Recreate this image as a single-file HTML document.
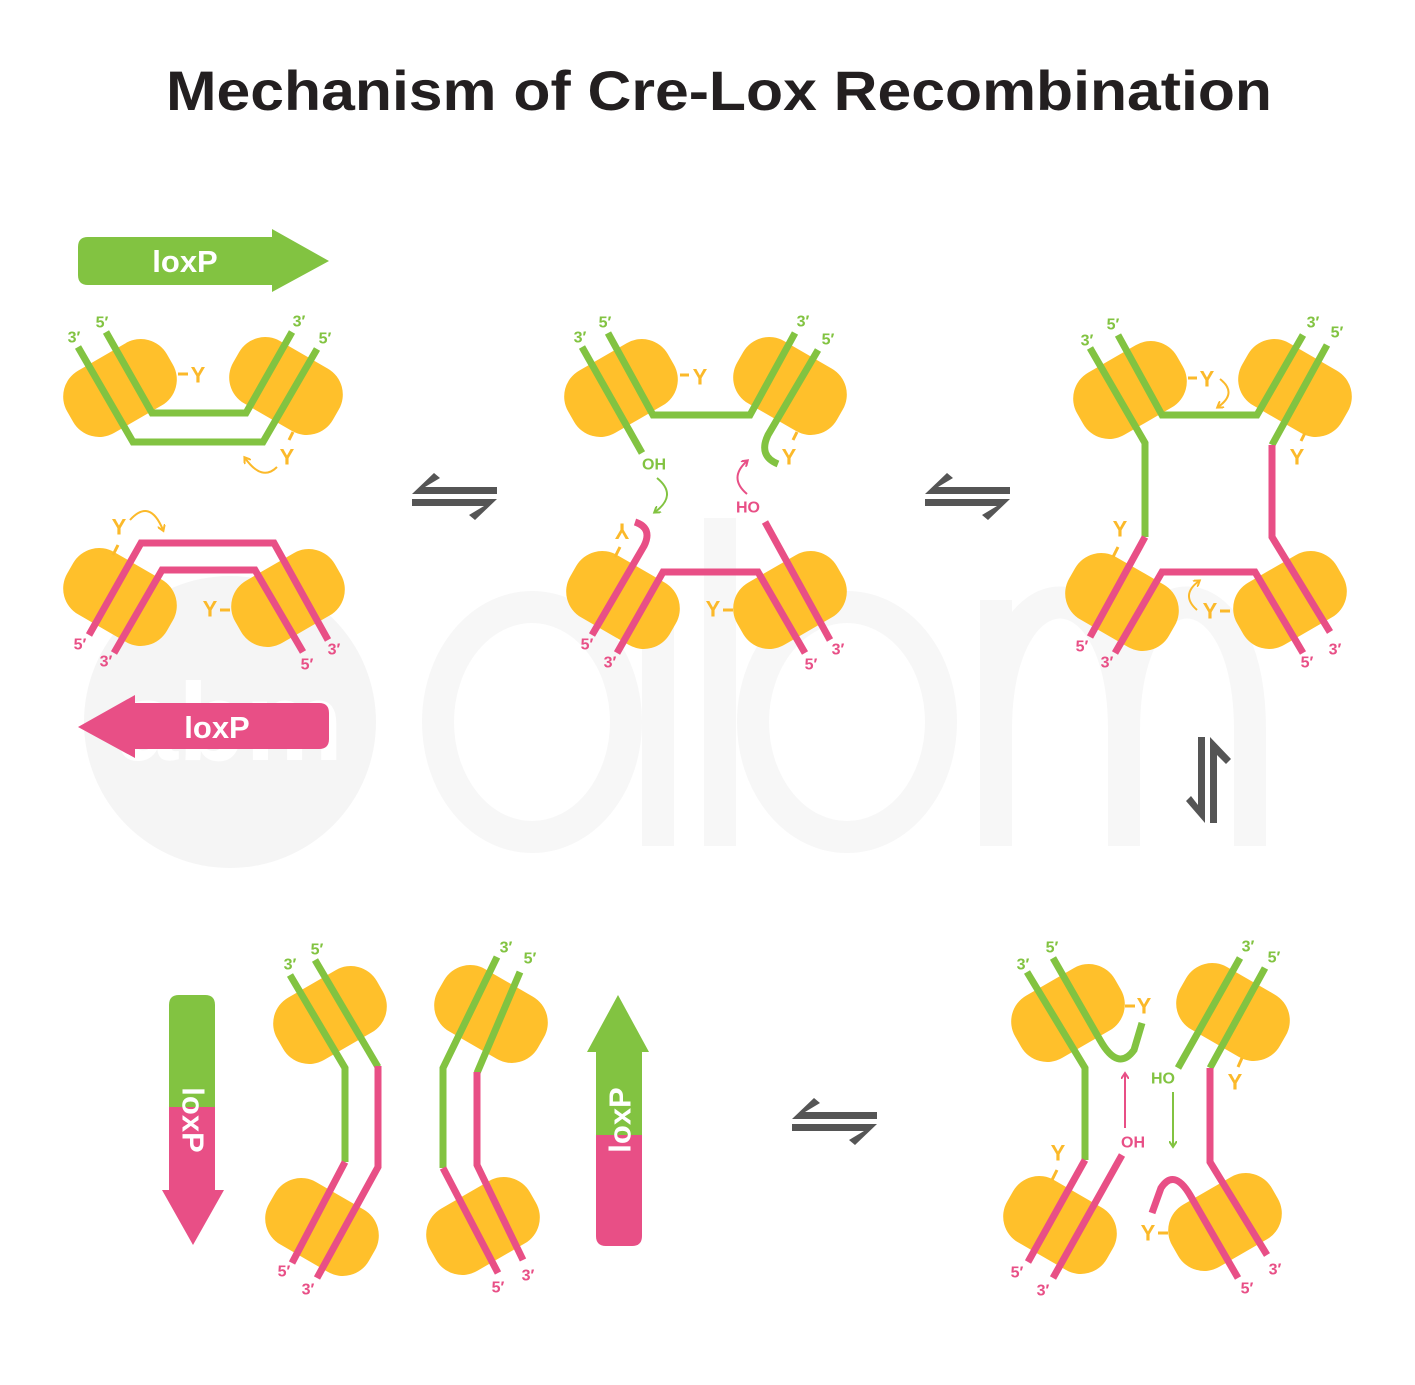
<!DOCTYPE html>
<html><head><meta charset="utf-8"><style>
html,body{margin:0;padding:0;background:#fff}
svg{display:block}
.g{stroke:#82c341;stroke-width:7;fill:none;stroke-linejoin:miter}
.p{stroke:#e84f86;stroke-width:7;fill:none;stroke-linejoin:miter}
.b{fill:#ffc02b}
.tk{stroke:#fbb92a;stroke-width:3;fill:none}
.la{font-family:"Liberation Sans",sans-serif;font-weight:bold;font-size:16px;text-anchor:middle;dominant-baseline:central}
.lg{fill:#82c341}.lp{fill:#e84f86}
.y{font-family:"Liberation Sans",sans-serif;font-weight:bold;font-size:22px;fill:#fbb92a;text-anchor:middle;dominant-baseline:central}
.ar{stroke:#fbb92a;stroke-width:2;fill:none}
</style></head><body>
<svg width="1415" height="1385" viewBox="0 0 1415 1385" xmlns="http://www.w3.org/2000/svg">
<defs>
<marker id="ho" markerWidth="8" markerHeight="8" refX="5" refY="4" orient="auto" markerUnits="userSpaceOnUse"><path d="M0,0 L6,4 L0,8" fill="none" stroke="#fbb92a" stroke-width="2"/></marker>
<marker id="hg" markerWidth="8" markerHeight="8" refX="5" refY="4" orient="auto" markerUnits="userSpaceOnUse"><path d="M0,0 L6,4 L0,8" fill="none" stroke="#82c341" stroke-width="2"/></marker>
<marker id="hp" markerWidth="8" markerHeight="8" refX="5" refY="4" orient="auto" markerUnits="userSpaceOnUse"><path d="M0,0 L6,4 L0,8" fill="none" stroke="#e84f86" stroke-width="2"/></marker>
</defs>
<!-- watermark -->
<g fill="none" stroke="#f7f7f7" stroke-width="32">
<ellipse cx="532" cy="722" rx="94" ry="115"/>
<line x1="658" y1="600" x2="658" y2="846"/>
<line x1="720" y1="518" x2="720" y2="846"/>
<ellipse cx="847" cy="722" rx="94" ry="115"/>
<path d="M996,846 L996,600 M996,730 C996,560 1124,560 1124,730 L1124,846 M1124,730 C1124,560 1250,560 1250,730 L1250,846"/>
</g>
<circle cx="230" cy="722" r="146" fill="#f5f5f5"/>
<text x="230" y="760" font-family="Liberation Sans,sans-serif" font-weight="bold" font-size="110" fill="#fff" text-anchor="middle">abm</text>

<text x="719" y="110" font-family="Liberation Sans,sans-serif" font-weight="bold" font-size="56" fill="#231f20" text-anchor="middle" textLength="1106" lengthAdjust="spacingAndGlyphs">Mechanism of Cre-Lox Recombination</text>

<!-- top loxP arrow -->
<path d="M88,237 L272,237 L272,229 L329,261 L272,292 L272,285 L88,285 Q78,285 78,275 L78,247 Q78,237 88,237Z" fill="#82c341"/>
<text x="185" y="272" font-family="Liberation Sans,sans-serif" font-weight="bold" font-size="31" fill="#fff" text-anchor="middle">loxP</text>
<path d="M319,703 L135,703 L135,695 L78,727 L135,758 L135,749 L319,749 Q329,749 329,739 L329,713 Q329,703 319,703Z" fill="#e84f86"/>
<text x="217" y="738" font-family="Liberation Sans,sans-serif" font-weight="bold" font-size="31" fill="#fff" text-anchor="middle">loxP</text>

<!-- equilibrium arrows -->
<g fill="#555">
<path d="M412,494 L434,473 L440,478 L425,487 L497,487 L497,494Z"/>
<path d="M497,499 L475,520 L469,515 L484,506 L412,506 L412,499Z"/>
<g transform="translate(513,0)"><path d="M412,494 L434,473 L440,478 L425,487 L497,487 L497,494Z"/><path d="M497,499 L475,520 L469,515 L484,506 L412,506 L412,499Z"/></g>
<g transform="translate(380,625)"><path d="M412,494 L434,473 L440,478 L425,487 L497,487 L497,494Z"/><path d="M497,499 L475,520 L469,515 L484,506 L412,506 L412,499Z"/></g>
<path d="M1198,737 L1205,737 L1205,823 L1186,801 L1191,796 L1198,805Z"/>
<path d="M1217,823 L1210,823 L1210,737 L1231,759 L1226,764 L1217,755Z"/>
</g>

<!-- PANEL 1 -->
<g class="b">
<rect x="-57.5" y="-36" width="115" height="72" rx="30" transform="translate(120,388) rotate(-30)"/>
<rect x="-57.5" y="-36" width="115" height="72" rx="30" transform="translate(286,386) rotate(30)"/>
<rect x="-57.5" y="-36" width="115" height="72" rx="30" transform="translate(120,597) rotate(30)"/>
<rect x="-57.5" y="-36" width="115" height="72" rx="30" transform="translate(288,598) rotate(-30)"/>
</g>
<polyline class="g" points="78,347 133,442 263,442 317,349"/>
<polyline class="g" points="106,332 152,413 246,413 292,332"/>
<polyline class="p" points="89,635 141,543 274,543 328,640"/>
<polyline class="p" points="114,653 162,570 255,570 303,652"/>
<text class="la lg" x="74" y="338">3′</text><text class="la lg" x="102" y="323">5′</text>
<text class="la lg" x="299" y="322">3′</text><text class="la lg" x="325" y="339">5′</text>
<text class="la lp" x="80" y="645">5′</text><text class="la lp" x="106" y="662">3′</text>
<text class="la lp" x="307" y="665">5′</text><text class="la lp" x="334" y="650">3′</text>
<line class="tk" x1="178" y1="374" x2="188" y2="374"/><text class="y" x="198" y="375">Y</text>
<line class="tk" x1="293" y1="432" x2="289" y2="440"/><text class="y" x="287" y="457">Y</text>
<path class="ar" d="M277,467 Q262,482 245,458" marker-end="url(#ho)"/>
<line class="tk" x1="118" y1="545" x2="113" y2="555"/><text class="y" x="119" y="527">Y</text>
<path class="ar" d="M130,520 Q150,498 163,530" marker-end="url(#ho)"/>
<line class="tk" x1="220" y1="610" x2="230" y2="610"/><text class="y" x="210" y="609">Y</text>

<!-- PANEL 2 -->
<g class="b">
<rect x="-57.5" y="-36" width="115" height="72" rx="30" transform="translate(621,388) rotate(-30)"/>
<rect x="-57.5" y="-36" width="115" height="72" rx="30" transform="translate(790,386) rotate(30)"/>
<rect x="-57.5" y="-36" width="115" height="72" rx="30" transform="translate(623,600) rotate(30)"/>
<rect x="-57.5" y="-36" width="115" height="72" rx="30" transform="translate(790,600) rotate(-30)"/>
</g>
<polyline class="g" points="582,347 642,453"/>
<polyline class="g" points="608,333 653,415 750,415 795,333"/>
<path class="g" d="M818,350 L768,435 Q758,456 778,464"/>
<path class="p" d="M592,635 L644,546 Q653,528 635,522"/>
<polyline class="p" points="617,653 663,572 758,572 805,653"/>
<polyline class="p" points="765,522 830,640"/>
<text class="la lg" x="580" y="338">3′</text><text class="la lg" x="605" y="323">5′</text>
<text class="la lg" x="803" y="322">3′</text><text class="la lg" x="828" y="340">5′</text>
<text class="la lp" x="587" y="645">5′</text><text class="la lp" x="610" y="663">3′</text>
<text class="la lp" x="811" y="665">5′</text><text class="la lp" x="838" y="650">3′</text>
<text class="la lg" x="654" y="465">OH</text>
<path d="M657,478 Q678,495 655,512" fill="none" stroke="#82c341" stroke-width="2" marker-end="url(#hg)"/>
<text class="la lp" x="748" y="508">HO</text>
<path d="M747,494 Q728,478 747,461" fill="none" stroke="#e84f86" stroke-width="2" marker-end="url(#hp)"/>
<line class="tk" x1="680" y1="375" x2="689" y2="375"/><text class="y" x="700" y="377">Y</text>
<line class="tk" x1="797" y1="432" x2="793" y2="440"/><text class="y" x="789" y="457">Y</text>
<line class="tk" x1="620" y1="547" x2="615" y2="557"/><text class="y" x="622" y="531" transform="rotate(180 622 531)">Y</text>
<line class="tk" x1="723" y1="610" x2="733" y2="610"/><text class="y" x="713" y="609">Y</text>

<!-- PANEL 3 -->
<g class="b">
<rect x="-57.5" y="-36" width="115" height="72" rx="30" transform="translate(1130,390) rotate(-30)"/>
<rect x="-57.5" y="-36" width="115" height="72" rx="30" transform="translate(1295,388) rotate(30)"/>
<rect x="-57.5" y="-36" width="115" height="72" rx="30" transform="translate(1122,602) rotate(30)"/>
<rect x="-57.5" y="-36" width="115" height="72" rx="30" transform="translate(1290,600) rotate(-30)"/>
</g>
<polyline class="g" points="1090,348 1145,443 1145,537"/>
<polyline class="p" points="1145,537 1090,637"/>
<polyline class="g" points="1118,335 1162,415 1257,415 1303,335"/>
<polyline class="g" points="1327,345 1272,445"/>
<polyline class="p" points="1272,445 1272,537 1330,632"/>
<polyline class="p" points="1115,653 1162,572 1255,572 1303,653"/>
<text class="la lg" x="1087" y="341">3′</text><text class="la lg" x="1113" y="325">5′</text>
<text class="la lg" x="1313" y="323">3′</text><text class="la lg" x="1337" y="333">5′</text>
<text class="la lp" x="1082" y="647">5′</text><text class="la lp" x="1107" y="663">3′</text>
<text class="la lp" x="1307" y="663">5′</text><text class="la lp" x="1335" y="650">3′</text>
<line class="tk" x1="1188" y1="378" x2="1197" y2="378"/><text class="y" x="1207" y="379">Y</text>
<path class="ar" d="M1220,379 Q1238,393 1218,407" marker-end="url(#ho)"/>
<line class="tk" x1="1305" y1="433" x2="1301" y2="441"/><text class="y" x="1297" y="457">Y</text>
<line class="tk" x1="1118" y1="547" x2="1113" y2="557"/><text class="y" x="1120" y="529">Y</text>
<line class="tk" x1="1220" y1="611" x2="1230" y2="611"/><text class="y" x="1210" y="611">Y</text>
<path class="ar" d="M1197,610 Q1180,595 1199,581" marker-end="url(#ho)"/>

<!-- PANEL 4 -->
<g class="b">
<rect x="-57.5" y="-36" width="115" height="72" rx="30" transform="translate(1068,1013) rotate(-30)"/>
<rect x="-57.5" y="-36" width="115" height="72" rx="30" transform="translate(1233,1012) rotate(30)"/>
<rect x="-57.5" y="-36" width="115" height="72" rx="30" transform="translate(1060,1225) rotate(30)"/>
<rect x="-57.5" y="-36" width="115" height="72" rx="30" transform="translate(1225,1222) rotate(-30)"/>
</g>
<polyline class="g" points="1027,972 1085,1068 1085,1160"/>
<polyline class="p" points="1085,1160 1028,1262"/>
<path class="g" d="M1053,958 L1100,1040 Q1118,1072 1134,1050 L1142,1023"/>
<polyline class="g" points="1240,958 1178,1068"/>
<polyline class="g" points="1265,968 1210,1068"/>
<polyline class="p" points="1210,1068 1210,1162 1267,1255"/>
<polyline class="p" points="1053,1278 1122,1155"/>
<path class="p" d="M1238,1278 L1190,1195 Q1174,1168 1161,1188 L1152,1213"/>
<text class="la lg" x="1023" y="965">3′</text><text class="la lg" x="1052" y="948">5′</text>
<text class="la lg" x="1248" y="947">3′</text><text class="la lg" x="1274" y="958">5′</text>
<text class="la lp" x="1017" y="1273">5′</text><text class="la lp" x="1043" y="1291">3′</text>
<text class="la lp" x="1247" y="1289">5′</text><text class="la lp" x="1275" y="1270">3′</text>
<text class="la lg" x="1163" y="1079">HO</text>
<text class="la lp" x="1133" y="1143">OH</text>
<line x1="1125" y1="1128" x2="1125" y2="1074" stroke="#e84f86" stroke-width="2" marker-end="url(#hp)"/>
<line x1="1173" y1="1092" x2="1173" y2="1146" stroke="#82c341" stroke-width="2" marker-end="url(#hg)"/>
<line class="tk" x1="1125" y1="1006" x2="1135" y2="1006"/><text class="y" x="1144" y="1006">Y</text>
<line class="tk" x1="1242" y1="1058" x2="1238" y2="1067"/><text class="y" x="1235" y="1082">Y</text>
<line class="tk" x1="1057" y1="1170" x2="1052" y2="1180"/><text class="y" x="1058" y="1153">Y</text>
<line class="tk" x1="1158" y1="1233" x2="1168" y2="1233"/><text class="y" x="1148" y="1233">Y</text>

<!-- PANEL 5 -->
<path d="M179,995 L205,995 Q215,995 215,1005 L215,1107 L169,1107 L169,1005 Q169,995 179,995Z" fill="#82c341"/>
<path d="M169,1107 L215,1107 L215,1190 L224,1190 L193,1245 L162,1190 L169,1190Z" fill="#e84f86"/>
<text x="193" y="1120" font-family="Liberation Sans,sans-serif" font-weight="bold" font-size="31" fill="#fff" text-anchor="middle" dominant-baseline="central" transform="rotate(90 193 1120)">loxP</text>
<path d="M587,1052 L618,995 L649,1052 L642,1052 L642,1135 L596,1135 L596,1052Z" fill="#82c341"/>
<path d="M596,1135 L642,1135 L642,1236 Q642,1246 632,1246 L606,1246 Q596,1246 596,1236Z" fill="#e84f86"/>
<text x="620" y="1120" font-family="Liberation Sans,sans-serif" font-weight="bold" font-size="31" fill="#fff" text-anchor="middle" dominant-baseline="central" transform="rotate(-90 620 1120)">loxP</text>
<g class="b">
<rect x="-57.5" y="-36" width="115" height="72" rx="30" transform="translate(330,1015) rotate(-30)"/>
<rect x="-57.5" y="-36" width="115" height="72" rx="30" transform="translate(491,1014) rotate(30)"/>
<rect x="-57.5" y="-36" width="115" height="72" rx="30" transform="translate(322,1227) rotate(30)"/>
<rect x="-57.5" y="-36" width="115" height="72" rx="30" transform="translate(483,1226) rotate(-30)"/>
</g>
<polyline class="g" points="290,975 345,1068 345,1162"/>
<polyline class="p" points="345,1162 292,1263"/>
<polyline class="g" points="315,960 378,1067"/>
<polyline class="p" points="378,1066 378,1167 317,1278"/>
<polyline class="g" points="497,957 443,1068 443,1168"/>
<polyline class="p" points="443,1168 498,1273"/>
<polyline class="g" points="520,972 477,1073"/>
<polyline class="p" points="477,1072 477,1165 523,1260"/>
<text class="la lg" x="290" y="965">3′</text><text class="la lg" x="317" y="950">5′</text>
<text class="la lg" x="506" y="948">3′</text><text class="la lg" x="530" y="959">5′</text>
<text class="la lp" x="284" y="1272">5′</text><text class="la lp" x="308" y="1290">3′</text>
<text class="la lp" x="498" y="1288">5′</text><text class="la lp" x="528" y="1276">3′</text>
</svg>
</body></html>
